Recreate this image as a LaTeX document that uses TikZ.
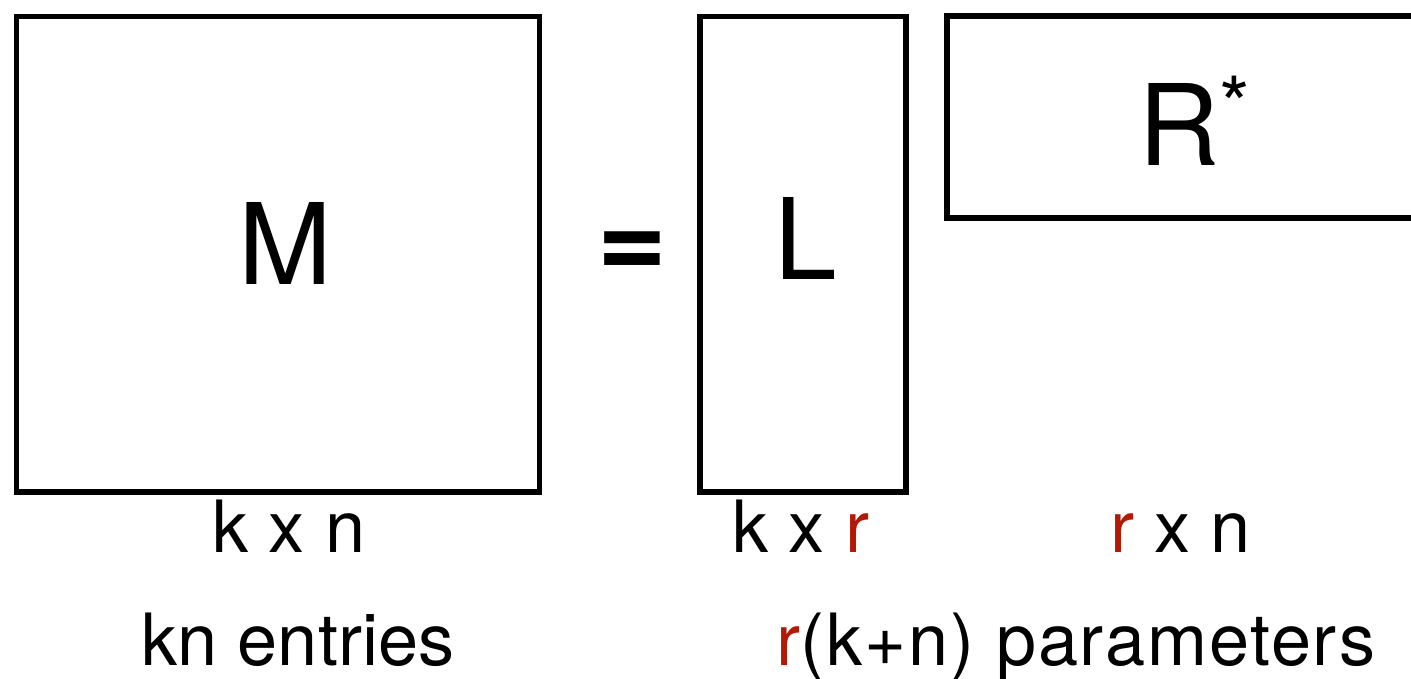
\documentclass[tikz,border=0pt]{standalone}
\usepackage{fontspec}
\setmainfont{TeX Gyre Heros}
\newfontfamily\widelabel[LetterSpace=2.5]{TeX Gyre Heros}
\usetikzlibrary{positioning}

\definecolor{rankred}{RGB}{178,26,6}

\tikzset{
  matbox/.style={draw, line width=1.6pt, inner sep=0pt},
  bigletter/.style={font=\fontsize{32}{36}\selectfont, inner sep=0pt, anchor=base},
  dimlabel/.style={font=\fontsize{20.5}{24}\selectfont, inner sep=0pt, anchor=base},
}

\begin{document}
\begin{tikzpicture}[x=0.01cm, y=-0.01cm]
  \useasboundingbox (0,0) rectangle (1411,678);

  % Matrix boxes
  \node[matbox, minimum width=5.23cm, minimum height=4.755cm] (M) at (278,254.25) {};
  \node[matbox, minimum width=2.06cm, minimum height=4.755cm] (L) at (803,254.25) {};
  \node[matbox, minimum width=5.23cm, minimum height=2.02cm] (R) at (1208.5,117) {};

  % Letters
  \node[bigletter] (Mt) at (285,284) {M};
  \node[bigletter] (Lt) at (806,279) {L};
  \node[bigletter] (Rt) at (1195,165) {R\textsuperscript{*}};
  \node[font=\fontsize{34}{38}\selectfont\bfseries, inner sep=0pt] (eq) at (632,255) {=};

  % Dimensions
  \node[dimlabel] (Mdim) at (289,552) {k x n};
  \node[dimlabel] (Ldim) at (801,552) {k x \textcolor{rankred}{r}};
  \node[dimlabel] (Rdim) at (1181,552) {\textcolor{rankred}{r} x n};

  % Counts
  \node[dimlabel] (Mcount) at (298,665) {kn entries};
  \node[dimlabel, font=\fontsize{20.5}{24}\selectfont\widelabel] (LRcount) at (1076,665) {\textcolor{rankred}{r}(k+n) parameters};
\end{tikzpicture}
\end{document}
